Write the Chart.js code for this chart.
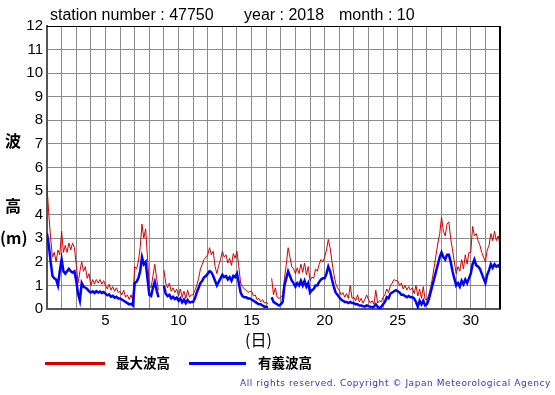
<!DOCTYPE html>
<html><head><meta charset="utf-8">
<script src="https://cdn.jsdelivr.net/npm/chart.js@4.4.1/dist/chart.umd.min.js"></script>
<style>
html,body{margin:0;padding:0;background:#fff;}
#wrap{position:relative;width:555px;height:395px;overflow:hidden;}
#c{position:absolute;left:0;top:0;}
.t{position:absolute;white-space:nowrap;line-height:1;color:#000;}
.title{font-family:"Liberation Sans",Arial,sans-serif;font-size:16px;top:7px;}
.jp{font-family:"Noto Sans CJK JP",sans-serif;font-weight:bold;}
.ln{position:absolute;height:3px;}
#copy{font-family:"DejaVu Sans",Verdana,sans-serif;font-size:9px;color:#3333cc;left:240px;top:379px;}
</style></head>
<body>
<div id="wrap">
<canvas id="c" width="555" height="395"></canvas>
<div class="t title" style="left:50px">station number : 47750</div>
<div class="t title" style="left:244px">year : 2018</div>
<div class="t title" style="left:339px">month : 10</div>
<div class="t jp" style="left:5px;top:132px;font-size:16px">波</div>
<div class="t jp" style="left:5px;top:197px;font-size:16px">高</div>
<div class="t jp" style="left:0px;top:229px;font-size:16px">(m)</div>
<div class="t jp" style="left:245px;top:331px;font-size:16px;font-weight:normal">(日)</div>
<div class="ln" style="left:45px;top:362px;width:60px;background:#d40000"></div>
<div class="t jp" style="left:116px;top:356px;font-size:13.5px">最大波高</div>
<div class="ln" style="left:189px;top:362px;width:57px;background:#0000ff"></div>
<div class="t jp" style="left:258px;top:356px;font-size:13.5px">有義波高</div>
<div class="t" id="copy">All rights reserved. Copyright © Japan Meteorological Agency</div>
</div>
<script>
// sample interval: 3 hours, starting at day 1 00:00
const startDay = 1;
const stepHours = 3;
const xTickLabels = [5, 10, 15, 20, 25, 30];
const yTickValues = [0,1,2,3,4,5,6,7,8,9,10,11,12];

const maxWave = [
 5.2,4.0,3.0,2.2,2.4,2.0,2.5,2.3,
 3.3,2.4,2.7,2.4,2.8,2.5,2.8,2.6,
 1.9,1.1,1.6,2.0,1.6,1.8,1.3,1.5,
 1.0,1.25,1.05,1.25,1.1,1.25,1.05,1.2,
 1.0,0.85,1.05,0.8,0.95,0.75,0.9,0.7,
 0.75,0.6,0.8,0.5,0.6,0.4,0.6,0.35,
 1.8,1.7,2.0,2.6,3.6,3.0,3.4,2.2,
 1.0,0.9,1.4,1.9,1.3,0.8,null,null,
 1.65,1.1,0.9,1.1,0.75,0.9,0.7,0.85,
 0.55,0.85,0.5,0.75,0.45,0.8,0.5,0.6,
 0.6,0.8,1.0,1.3,1.7,1.9,2.1,2.2,
 2.3,2.6,2.3,2.45,1.8,1.5,1.85,2.1,
 2.45,2.2,2.3,1.95,2.15,1.85,2.35,2.15,
 2.45,1.8,1.1,0.95,0.85,0.8,0.7,0.75,
 0.75,0.55,0.6,0.4,0.45,0.3,0.4,0.25,
 0.3,0.2,null,1.3,0.6,0.9,0.5,0.45,
 0.5,0.6,1.3,1.9,2.6,2.2,1.8,1.7,
 1.5,1.75,1.5,1.9,1.55,1.95,1.45,1.8,
 1.2,1.35,1.3,1.7,1.6,1.9,2.1,2.0,
 2.2,2.5,2.95,2.6,2.0,1.5,1.1,0.9,
 0.8,0.6,0.7,0.5,0.65,0.45,1.0,0.45,
 0.5,0.35,0.6,0.3,0.45,0.25,0.4,0.6,
 0.4,0.25,0.35,0.2,0.8,0.25,0.35,0.3,
 0.5,0.6,0.85,0.7,1.0,1.1,1.25,1.2,
 1.2,1.0,1.1,0.85,1.0,0.8,0.95,0.8,
 0.9,0.65,1.0,0.55,0.85,0.45,0.95,0.4,
 0.4,0.6,0.9,1.3,1.8,2.3,2.8,3.2,
 3.9,3.3,3.1,3.6,3.7,3.0,2.5,2.0,
 1.5,1.8,1.6,2.1,1.7,2.3,1.9,2.4,
 2.4,3.5,3.1,3.2,2.9,2.7,2.4,2.2,
 2.0,2.5,2.7,3.2,2.9,3.3,2.9,3.1,
 2.7
];

const sigWave = [
 3.2,2.7,2.0,1.4,1.3,1.25,1.0,1.6,
 2.1,1.6,1.5,1.6,1.7,1.6,1.55,1.6,
 1.2,0.65,0.35,1.1,0.95,0.9,0.85,0.75,
 0.7,0.75,0.68,0.76,0.7,0.74,0.68,0.72,
 0.65,0.58,0.62,0.52,0.56,0.48,0.52,0.45,
 0.45,0.4,0.35,0.3,0.25,0.2,0.22,0.15,
 1.1,1.15,1.3,1.6,2.2,1.9,2.0,1.3,
 0.6,0.55,0.9,1.15,0.8,0.5,null,null,
 1.0,0.65,0.55,0.6,0.45,0.52,0.42,0.48,
 0.35,0.45,0.28,0.4,0.25,0.38,0.28,0.3,
 0.3,0.45,0.7,0.9,1.1,1.2,1.35,1.4,
 1.5,1.6,1.55,1.4,1.2,1.0,1.15,1.3,
 1.45,1.35,1.4,1.25,1.35,1.2,1.4,1.35,
 1.5,1.1,0.7,0.55,0.5,0.5,0.45,0.45,
 0.4,0.35,0.3,0.25,0.2,0.2,0.15,0.1,
 0.1,0.08,null,0.5,0.3,0.25,0.2,0.15,
 0.2,0.3,1.0,1.3,1.6,1.4,1.2,1.1,
 0.95,1.1,1.0,1.2,1.0,1.2,0.95,1.1,
 0.7,0.8,0.85,1.0,1.0,1.15,1.25,1.3,
 1.3,1.5,1.8,1.6,1.25,0.95,0.7,0.6,
 0.5,0.4,0.35,0.3,0.3,0.25,0.3,0.25,
 0.25,0.2,0.2,0.15,0.15,0.12,0.1,0.15,
 0.12,0.1,0.08,0.1,0.2,0.1,0.02,0.1,
 0.2,0.3,0.5,0.45,0.65,0.7,0.75,0.8,
 0.75,0.7,0.6,0.6,0.55,0.5,0.55,0.5,
 0.5,0.45,0.3,0.1,0.35,0.2,0.35,0.15,
 0.2,0.4,0.7,1.0,1.3,1.6,1.9,2.2,
 2.4,2.2,2.1,2.3,2.3,2.0,1.6,1.3,
 1.0,1.1,0.95,1.2,1.05,1.25,1.1,1.3,
 1.5,1.9,2.1,1.85,1.8,1.7,1.5,1.3,
 1.1,1.45,1.65,1.9,1.75,1.9,1.8,1.85,
 1.75
];

const toPoints = arr => arr.map((v, i) => ({ x: startDay + i * stepHours / 24, y: v }));

const frame = {
  id: 'frame',
  afterDatasetsDraw(chart) {
    const { ctx, chartArea: a } = chart;
    ctx.save();
    ctx.strokeStyle = '#000';
    ctx.lineWidth = 1;
    ctx.beginPath();
    ctx.moveTo(a.left, a.top + 0.5);
    ctx.lineTo(a.right, a.top + 0.5);
    ctx.stroke();
    ctx.lineWidth = 2;
    ctx.beginPath();
    ctx.moveTo(a.right, a.top);
    ctx.lineTo(a.right, a.bottom);
    ctx.stroke();
    ctx.restore();
  }
};

new Chart(document.getElementById('c'), {
  type: 'line',
  data: {
    datasets: [
      { label: '最大波高', data: toPoints(maxWave), borderColor: '#d40000', borderWidth: 1,
        pointRadius: 0, order: 2, spanGaps: false },
      { label: '有義波高', data: toPoints(sigWave), borderColor: '#0000ff', borderWidth: 2.5,
        pointRadius: 0, order: 1, spanGaps: false }
    ]
  },
  options: {
    responsive: false,
    animation: false,
    devicePixelRatio: 1,
    layout: { padding: { left: 0, top: 26, right: 55, bottom: 0 } },
    plugins: { legend: { display: false }, title: { display: false }, tooltip: { enabled: false } },
    scales: {
      x: {
        type: 'linear', min: 1, max: 32,
        afterFit: s => { s.height = 86; },
        ticks: {
          stepSize: 1, autoSkip: false, maxRotation: 0, padding: 3, color: '#000',
          font: { family: 'Liberation Sans', size: 15 },
          callback: v => xTickLabels.includes(v) ? String(v) : ''
        },
        grid: { color: '#8c8c8c', lineWidth: 1, drawTicks: false },
        border: { color: '#555', width: 2 }
      },
      y: {
        min: 0, max: 12,
        afterFit: s => { s.width = 47; },
        afterBuildTicks: s => { s.ticks = yTickValues.map(v => ({ value: v })); },
        ticks: {
          padding: 4, color: '#000',
          font: { family: 'Liberation Sans', size: 15 }
        },
        grid: { color: '#8c8c8c', lineWidth: 1, drawTicks: false },
        border: { color: '#555', width: 2 }
      }
    }
  },
  plugins: [frame]
});

// fit copyright line to its width in the reference
const cp = document.getElementById('copy');
const w = cp.getBoundingClientRect().width;
const n = cp.textContent.length;
cp.style.letterSpacing = ((311 - w) / n) + 'px';
</script>
</body></html>
